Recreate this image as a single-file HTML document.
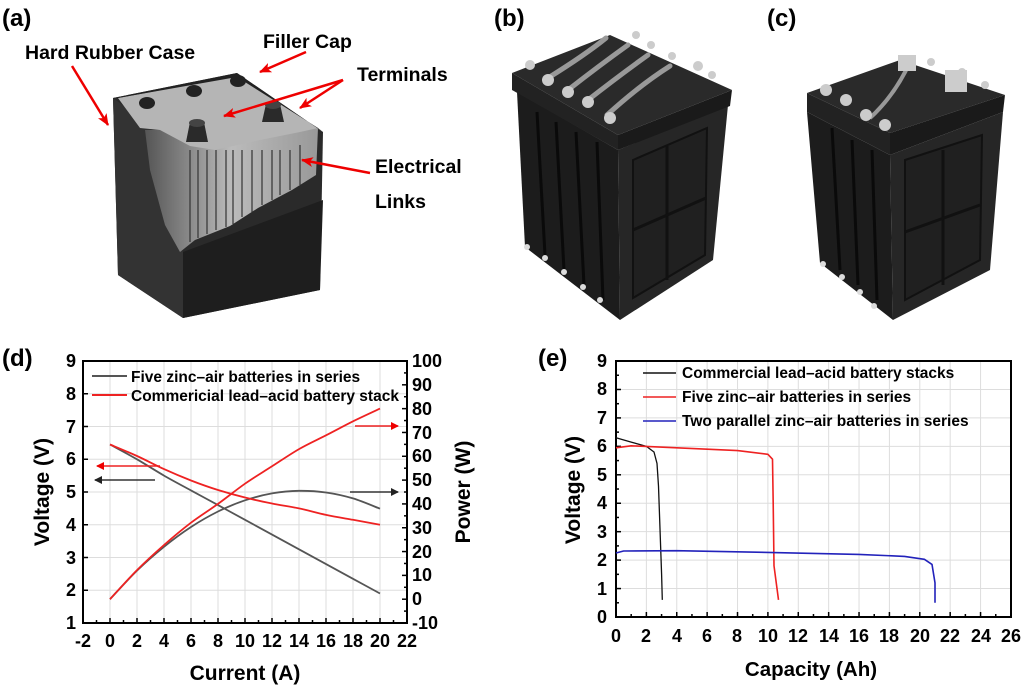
<!DOCTYPE html>
<html><head><meta charset="utf-8"><style>
html,body{margin:0;padding:0;background:#fff;}
svg{display:block;font-family:"Liberation Sans",sans-serif;font-weight:bold;}
</style></head><body>
<svg id="s" width="1024" height="685" viewBox="0 0 1024 685" xmlns="http://www.w3.org/2000/svg">
<defs>
<linearGradient id="plates" x1="0" x2="1" y1="0" y2="0">
<stop offset="0" stop-color="#555"/><stop offset="0.5" stop-color="#bbb"/><stop offset="1" stop-color="#999"/>
</linearGradient>
<marker id="ar" markerWidth="8" markerHeight="8" refX="7" refY="4" orient="auto" markerUnits="userSpaceOnUse"><path d="M0,0 L8,4 L0,8 Z" fill="#e00"/></marker>
<marker id="ar2" markerWidth="12" markerHeight="10" refX="11" refY="5" orient="auto" markerUnits="userSpaceOnUse"><path d="M0,0 L12,5 L0,10 L3,5 Z" fill="#e00"/></marker>
<marker id="ak" markerWidth="8" markerHeight="8" refX="7" refY="4" orient="auto" markerUnits="userSpaceOnUse"><path d="M0,0 L8,4 L0,8 Z" fill="#222"/></marker>
</defs>

<!-- panel labels -->
<text x="2" y="26" font-size="24">(a)</text>
<text x="494" y="26" font-size="24">(b)</text>
<text x="767" y="26" font-size="24">(c)</text>
<text x="2" y="366" font-size="24">(d)</text>
<text x="538" y="366" font-size="24">(e)</text>

<!-- panel a battery -->
<polygon points="113,98 237,73 323,132 320,290 183,318 118,275" fill="#2a2a2a"/>
<polygon points="183,252 323,200 320,290 183,318" fill="#1e1e1e"/>
<polygon points="113,98 150,125 160,200 183,252 183,318 118,275" fill="#333"/>
<polygon points="145,130 318,128 316,175 292,190 258,208 230,226 195,240 180,252 165,225 150,170" fill="url(#plates)"/>
<g stroke="#333" stroke-width="1.2">
<line x1="190" y1="150" x2="190" y2="242"/><line x1="198" y1="150" x2="198" y2="238"/><line x1="207" y1="150" x2="207" y2="234"/><line x1="216" y1="150" x2="216" y2="230"/><line x1="226" y1="150" x2="226" y2="227"/><line x1="233" y1="150" x2="233" y2="224"/><line x1="242" y1="150" x2="242" y2="217"/><line x1="252" y1="150" x2="252" y2="212"/><line x1="262" y1="150" x2="262" y2="205"/><line x1="272" y1="150" x2="272" y2="200"/><line x1="280" y1="150" x2="280" y2="195"/><line x1="290" y1="150" x2="290" y2="190"/><line x1="300" y1="145" x2="300" y2="185"/>
</g>
<polygon points="118,98 237,76 318,128 300,132 260,140 215,150 190,146 160,130 140,128" fill="#b5b5b5"/>
<polygon points="113,98 237,73 323,132 318,128 237,77 118,98" fill="#222"/>
<ellipse cx="147" cy="103" rx="8" ry="6" fill="#222"/><ellipse cx="194" cy="91" rx="8" ry="6" fill="#222"/><ellipse cx="238" cy="81" rx="8" ry="6" fill="#222"/>
<path d="M186,142 L190,122 L204,122 L208,142 Z" fill="#2a2a2a"/><ellipse cx="197" cy="123" rx="8" ry="4" fill="#444"/>
<path d="M262,122 L266,104 L280,104 L284,122 Z" fill="#2a2a2a"/><ellipse cx="273" cy="105" rx="8" ry="4" fill="#444"/>

<text x="25" y="59" font-size="19.5">Hard Rubber Case</text>
<text x="263" y="48" font-size="19.5">Filler Cap</text>
<text x="357" y="81" font-size="19.5">Terminals</text>
<text x="375" y="173" font-size="19.5">Electrical</text>
<text x="375" y="208" font-size="19.5">Links</text>
<g stroke="#e00" stroke-width="2.5" fill="none">
<line x1="72" y1="66" x2="108" y2="125" marker-end="url(#ar2)"/>
<line x1="306" y1="52" x2="260" y2="72" marker-end="url(#ar2)"/>
<line x1="343" y1="80" x2="224" y2="116" marker-end="url(#ar2)"/>
<line x1="343" y1="80" x2="300" y2="108" marker-end="url(#ar2)"/>
<line x1="370" y1="173" x2="302" y2="160" marker-end="url(#ar2)"/>
</g>

<!-- panel b -->
<g>
<polygon points="517,92 618,150 620,320 525,247" fill="#1c1c1c"/>
<polygon points="618,150 728,105 713,260 620,320" fill="#262626"/>
<polygon points="512,73 610,35 732,90 618,135" fill="#2a2a2a"/>
<polygon points="512,73 618,135 618,150 512,90" fill="#222"/>
<polygon points="618,135 732,90 730,106 618,150" fill="#1a1a1a"/>
<polygon points="633,160 707,128 705,255 633,298" fill="#202020" stroke="#111" stroke-width="2"/>
<line x1="667" y1="146" x2="667" y2="280" stroke="#111" stroke-width="3"/>
<line x1="633" y1="230" x2="706" y2="198" stroke="#111" stroke-width="3"/>
<g stroke="#0a0a0a" stroke-width="3"><line x1="537" y1="112" x2="545" y2="255"/><line x1="556" y1="122" x2="564" y2="270"/><line x1="576" y1="132" x2="584" y2="285"/><line x1="597" y1="142" x2="603" y2="300"/></g>
<g fill="#ddd"><circle cx="527" cy="247" r="3"/><circle cx="545" cy="258" r="3"/><circle cx="564" cy="272" r="3"/><circle cx="583" cy="287" r="3"/><circle cx="600" cy="300" r="3"/></g>
<g stroke="#999" stroke-width="5" fill="none" stroke-linecap="round">
<path d="M548,78 Q585,55 606,38"/><path d="M568,90 Q600,65 628,45"/><path d="M588,100 Q620,75 648,55"/><path d="M607,115 Q640,85 670,66"/>
</g>
<g fill="#ccc"><circle cx="530" cy="65" r="5"/><circle cx="548" cy="80" r="6"/><circle cx="568" cy="92" r="6"/><circle cx="588" cy="102" r="6"/><circle cx="610" cy="118" r="6"/><circle cx="636" cy="35" r="4"/><circle cx="651" cy="45" r="4"/><circle cx="672" cy="56" r="4"/><circle cx="698" cy="66" r="5"/><circle cx="712" cy="75" r="4"/></g>
</g>

<!-- panel c -->
<g>
<polygon points="807,112 890,155 893,320 820,263" fill="#1c1c1c"/>
<polygon points="890,155 1003,112 990,270 893,320" fill="#262626"/>
<polygon points="807,93 900,60 1005,95 890,133" fill="#2a2a2a"/>
<polygon points="807,93 890,133 890,155 807,112" fill="#222"/>
<polygon points="890,133 1005,95 1003,112 890,155" fill="#1a1a1a"/>
<polygon points="905,160 982,135 980,260 905,300" fill="#202020" stroke="#111" stroke-width="2"/>
<line x1="943" y1="150" x2="943" y2="285" stroke="#111" stroke-width="3"/>
<line x1="905" y1="232" x2="980" y2="205" stroke="#111" stroke-width="3"/>
<g stroke="#0a0a0a" stroke-width="3"><line x1="832" y1="128" x2="840" y2="270"/><line x1="852" y1="140" x2="858" y2="285"/><line x1="872" y1="150" x2="877" y2="300"/></g>
<g fill="#ddd"><circle cx="823" cy="264" r="3"/><circle cx="842" cy="277" r="3"/><circle cx="860" cy="292" r="3"/><circle cx="874" cy="306" r="3"/></g>
<path d="M870,118 Q895,95 910,62" stroke="#999" stroke-width="4" fill="none"/>
<g fill="#ccc"><circle cx="826" cy="90" r="6"/><circle cx="846" cy="100" r="6"/><circle cx="866" cy="115" r="6"/><circle cx="885" cy="125" r="6"/><rect x="898" y="55" width="18" height="16"/><rect x="945" y="70" width="22" height="22"/><circle cx="931" cy="62" r="4"/><circle cx="962" cy="72" r="4"/><circle cx="985" cy="85" r="4"/></g>
</g>

<g id="gd"></g>
<g id="ge"></g>

<!-- plot d texts -->
<g font-size="18" text-anchor="end">
<text x="76" y="367">9</text><text x="76" y="400">8</text><text x="76" y="433">7</text><text x="76" y="465">6</text><text x="76" y="498">5</text><text x="76" y="531">4</text><text x="76" y="564">3</text><text x="76" y="596">2</text><text x="76" y="629">1</text>
</g>
<g font-size="18" text-anchor="start">
<text x="412" y="367">100</text><text x="412" y="391">90</text><text x="412" y="415">80</text><text x="412" y="439">70</text><text x="412" y="462">60</text><text x="412" y="486">50</text><text x="412" y="510">40</text><text x="412" y="534">30</text><text x="412" y="558">20</text><text x="412" y="581">10</text><text x="412" y="605">0</text><text x="412" y="629">-10</text>
</g>
<g font-size="18" text-anchor="middle">
<text x="83" y="647">-2</text><text x="110" y="647">0</text><text x="137" y="647">2</text><text x="164" y="647">4</text><text x="191" y="647">6</text><text x="218" y="647">8</text><text x="245" y="647">10</text><text x="272" y="647">12</text><text x="299" y="647">14</text><text x="326" y="647">16</text><text x="353" y="647">18</text><text x="380" y="647">20</text><text x="407" y="647">22</text>
</g>
<text x="245" y="680" font-size="21" text-anchor="middle">Current (A)</text>
<text transform="translate(49,492) rotate(-90)" font-size="21" text-anchor="middle">Voltage (V)</text>
<text transform="translate(470,492) rotate(-90)" font-size="21" text-anchor="middle">Power (W)</text>
<text x="131" y="382" font-size="15.5">Five zinc–air batteries in series</text>
<text x="131" y="401" font-size="15.5">Commericial lead–acid battery stack</text>

<!-- plot e texts -->
<g font-size="18" text-anchor="end">
<text x="607" y="623">0</text><text x="607" y="595">1</text><text x="607" y="566">2</text><text x="607" y="538">3</text><text x="607" y="509">4</text><text x="607" y="481">5</text><text x="607" y="452">6</text><text x="607" y="424">7</text><text x="607" y="395">8</text><text x="607" y="367">9</text>
</g>
<g font-size="18" text-anchor="middle">
<text x="616" y="642">0</text><text x="646" y="642">2</text><text x="677" y="642">4</text><text x="707" y="642">6</text><text x="737" y="642">8</text><text x="768" y="642">10</text><text x="798" y="642">12</text><text x="829" y="642">14</text><text x="859" y="642">16</text><text x="889" y="642">18</text><text x="920" y="642">20</text><text x="950" y="642">22</text><text x="981" y="642">24</text><text x="1011" y="642">26</text>
</g>
<text x="811" y="676" font-size="20.5" text-anchor="middle">Capacity (Ah)</text>
<text transform="translate(580,490) rotate(-90)" font-size="21" text-anchor="middle">Voltage (V)</text>
<text x="682" y="378" font-size="15.5">Commercial lead–acid battery stacks</text>
<text x="682" y="402" font-size="15.5">Five zinc–air batteries in series</text>
<text x="682" y="426" font-size="15.5">Two parallel zinc–air batteries in series</text>
</svg>
<script>
var NS="http://www.w3.org/2000/svg";
function el(g,t,a){var e=document.createElementNS(NS,t);for(var k in a)e.setAttribute(k,a[k]);g.appendChild(e);return e;}
function poly(g,pts,c,w,m){var d=pts.map(function(p,i){return (i?"L":"M")+p[0].toFixed(1)+","+p[1].toFixed(1)}).join("");var a={d:d,fill:"none",stroke:c,"stroke-width":w||1.5,"stroke-linejoin":"round"};if(m)a["marker-end"]=m;return el(g,"path",a);}
function smooth(g,pts,c,w){var d="M"+pts[0][0]+","+pts[0][1];for(var i=0;i<pts.length-1;i++){var p0=pts[i-1]||pts[i],p1=pts[i],p2=pts[i+1],p3=pts[i+2]||p2;var c1=[p1[0]+(p2[0]-p0[0])/6,p1[1]+(p2[1]-p0[1])/6],c2=[p2[0]-(p3[0]-p1[0])/6,p2[1]-(p3[1]-p1[1])/6];d+="C"+c1[0].toFixed(1)+","+c1[1].toFixed(1)+" "+c2[0].toFixed(1)+","+c2[1].toFixed(1)+" "+p2[0]+","+p2[1];}return el(g,"path",{d:d,fill:"none",stroke:c,"stroke-width":w});}
// plot d
var g=document.getElementById("gd");
var L=83,R=407,T=361,B=623;
for(var i=-2;i<=22;i+=2){var x=110+13.5*i;el(g,"line",{x1:x,y1:T,x2:x,y2:B,stroke:"#ddd","stroke-width":1});}
for(var v=1;v<=9;v++){var y=361+(9-v)*32.75;el(g,"line",{x1:L,y1:y,x2:R,y2:y,stroke:"#ddd","stroke-width":1});el(g,"line",{x1:L,y1:y,x2:L+5,y2:y,stroke:"#000","stroke-width":1.5});}
for(var p=-10;p<=100;p+=5){var y=361+(100-p)*2.382;el(g,"line",{x1:R,y1:y,x2:R-(p%10?3:5),y2:y,stroke:"#000","stroke-width":1.5});}
for(var i=-2;i<=22;i+=1){var x=110+13.5*i;el(g,"line",{x1:x,y1:B,x2:x,y2:B-(i%2?3:5),stroke:"#000","stroke-width":1.5});}
el(g,"rect",{x:L,y:T,width:R-L,height:B-T,fill:"none",stroke:"#000","stroke-width":2});
var X=[110,137,164,191,218,245,272,299,326,353,380];
function z(a){return X.map(function(x,i){return [x,a[i]]});}
smooth(g,z([444.5,459.3,475.6,490.4,505.1,519.8,534.6,549.3,564.1,578.8,593.5]),"#555",1.8);
smooth(g,z([599.2,570.6,546.8,527,511.5,500.3,493.4,490.8,492.5,498.4,508.7]),"#555",1.8);
smooth(g,z([444.5,456,469.1,480.5,490,497.5,503.5,508.4,514.9,519.8,524.75]),"#e22",1.8);
smooth(g,z([599.2,570.1,545,522.7,503.9,483.7,466.3,449.1,435.3,421.3,408.6]),"#e22",1.8);
poly(g,[[92,376],[127,376]],"#555",2);poly(g,[[92,395],[127,395]],"#e22",2);
poly(g,[[160,466],[97,466]],"#e22",1.5,"url(#ar)");
poly(g,[[155,480],[95,480]],"#333",1.5,"url(#ak)");
poly(g,[[355,426],[398,426]],"#e22",1.5,"url(#ar)");
poly(g,[[350,492],[398,492]],"#333",1.5,"url(#ak)");
// plot e
g=document.getElementById("ge");
L=616;R=1011;T=361;B=617;
function ex(c){return 616+15.19*c} function ey(v){return 617-28.44*v}
for(var c=0;c<=26;c+=2){el(g,"line",{x1:ex(c),y1:T,x2:ex(c),y2:B,stroke:"#ddd","stroke-width":1});}
for(var v=0;v<=9;v++){el(g,"line",{x1:L,y1:ey(v),x2:R,y2:ey(v),stroke:"#ddd","stroke-width":1});}
for(var v=0;v<=9;v+=0.5){el(g,"line",{x1:L,y1:ey(v),x2:L+(v%1?3:5),y2:ey(v),stroke:"#000","stroke-width":1.5});}
for(var c=0;c<=26;c+=1){el(g,"line",{x1:ex(c),y1:B,x2:ex(c),y2:B-(c%2?3:5),stroke:"#000","stroke-width":1.5});}
el(g,"rect",{x:L,y:T,width:R-L,height:B-T,fill:"none",stroke:"#000","stroke-width":2});
function pe(a){return a.map(function(p){return [ex(p[0]),ey(p[1])]});}
poly(g,pe([[0,6.3],[1,6.15],[2,6.0],[2.5,5.8],[2.7,5.4],[2.8,4.6],[3.0,1.5],[3.05,0.6]]),"#111",1.3);
poly(g,pe([[0,5.95],[1,6.02],[4,5.95],[8,5.85],[10,5.72],[10.3,5.55],[10.35,4],[10.4,1.8],[10.7,0.6]]),"#e22",1.6);
poly(g,pe([[0,2.25],[0.5,2.32],[4,2.33],[10,2.27],[16,2.2],[19,2.13],[20.3,2.03],[20.8,1.85],[21,1.2],[21,0.5]]),"#22b",1.6);
poly(g,[[643,373],[676,373]],"#111",1.5);poly(g,[[643,397],[676,397]],"#e22",1.5);poly(g,[[643,421],[676,421]],"#22b",1.5);
</script>
</body></html>
